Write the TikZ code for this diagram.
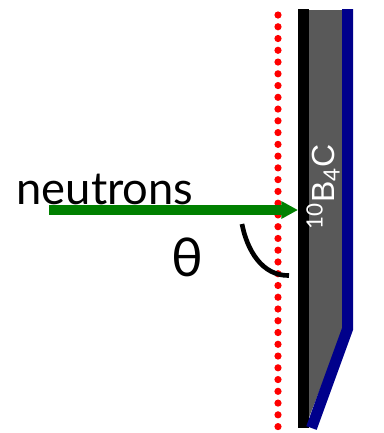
\documentclass[tikz,border=0pt]{standalone}
\usepackage{fontspec}
\setmainfont{Lato}
\newfontfamily\platefont{Liberation Sans}
\usepackage{xcolor}
\usetikzlibrary{arrows.meta,positioning}
\definecolor{beamgreen}{HTML}{008000}
\definecolor{layerblue}{HTML}{00008B}
\definecolor{coatgray}{HTML}{595959}
\definecolor{surfred}{HTML}{FF0000}

\begin{document}
\begin{tikzpicture}[
    x=0.75pt,y=-0.75pt,
    coat/.style={fill=coatgray,draw=none},
    backing/.style={draw=layerblue,line width=8.25pt,miter limit=10},
    substrate/.style={fill=black,draw=none},
    surface/.style={draw=surfred,line width=5.4pt,line cap=round,dash pattern=on 0pt off 8.82pt},
    beam/.style={-{Triangle[length=12.5pt,width=12.5pt]},draw=beamgreen,line width=7.2pt},
    anglemark/.style={draw=black,line width=3.5pt},
    label/.style={inner sep=0pt,text=black}
]
    \useasboundingbox (0,0) rectangle (383,433);

    \fill[coat] (308,10) -- (344,10) -- (344,328) -- (308,420) -- cycle;
    \fill[substrate] (298,9) rectangle (309,428);
    \draw[backing] (347.5,9) -- (347.5,329) -- (311.5,428);
    \draw[surface] (278,15) -- (278,428);

    \coordinate (start) at (49,210);
    \coordinate (plate) at (298,210);
    \draw[beam] (start) -- (plate);
    \draw[anglemark] (242,224) .. controls (247,250) and (262,276) .. (289,275.5);

    \node[label,font=\fontsize{34}{34}\selectfont] (neutrons) at (105,189) {neutrons};
    \node[label,font=\fontsize{40}{40}\selectfont] (theta) at (187,257) {θ};
    \node[label,rotate=90,text=white,font=\platefont\fontsize{24}{24}\selectfont] (material) at (323,187) {$^{\mathrm{10}}$B$_{\mathrm{4}}$C};
\end{tikzpicture}
\end{document}
